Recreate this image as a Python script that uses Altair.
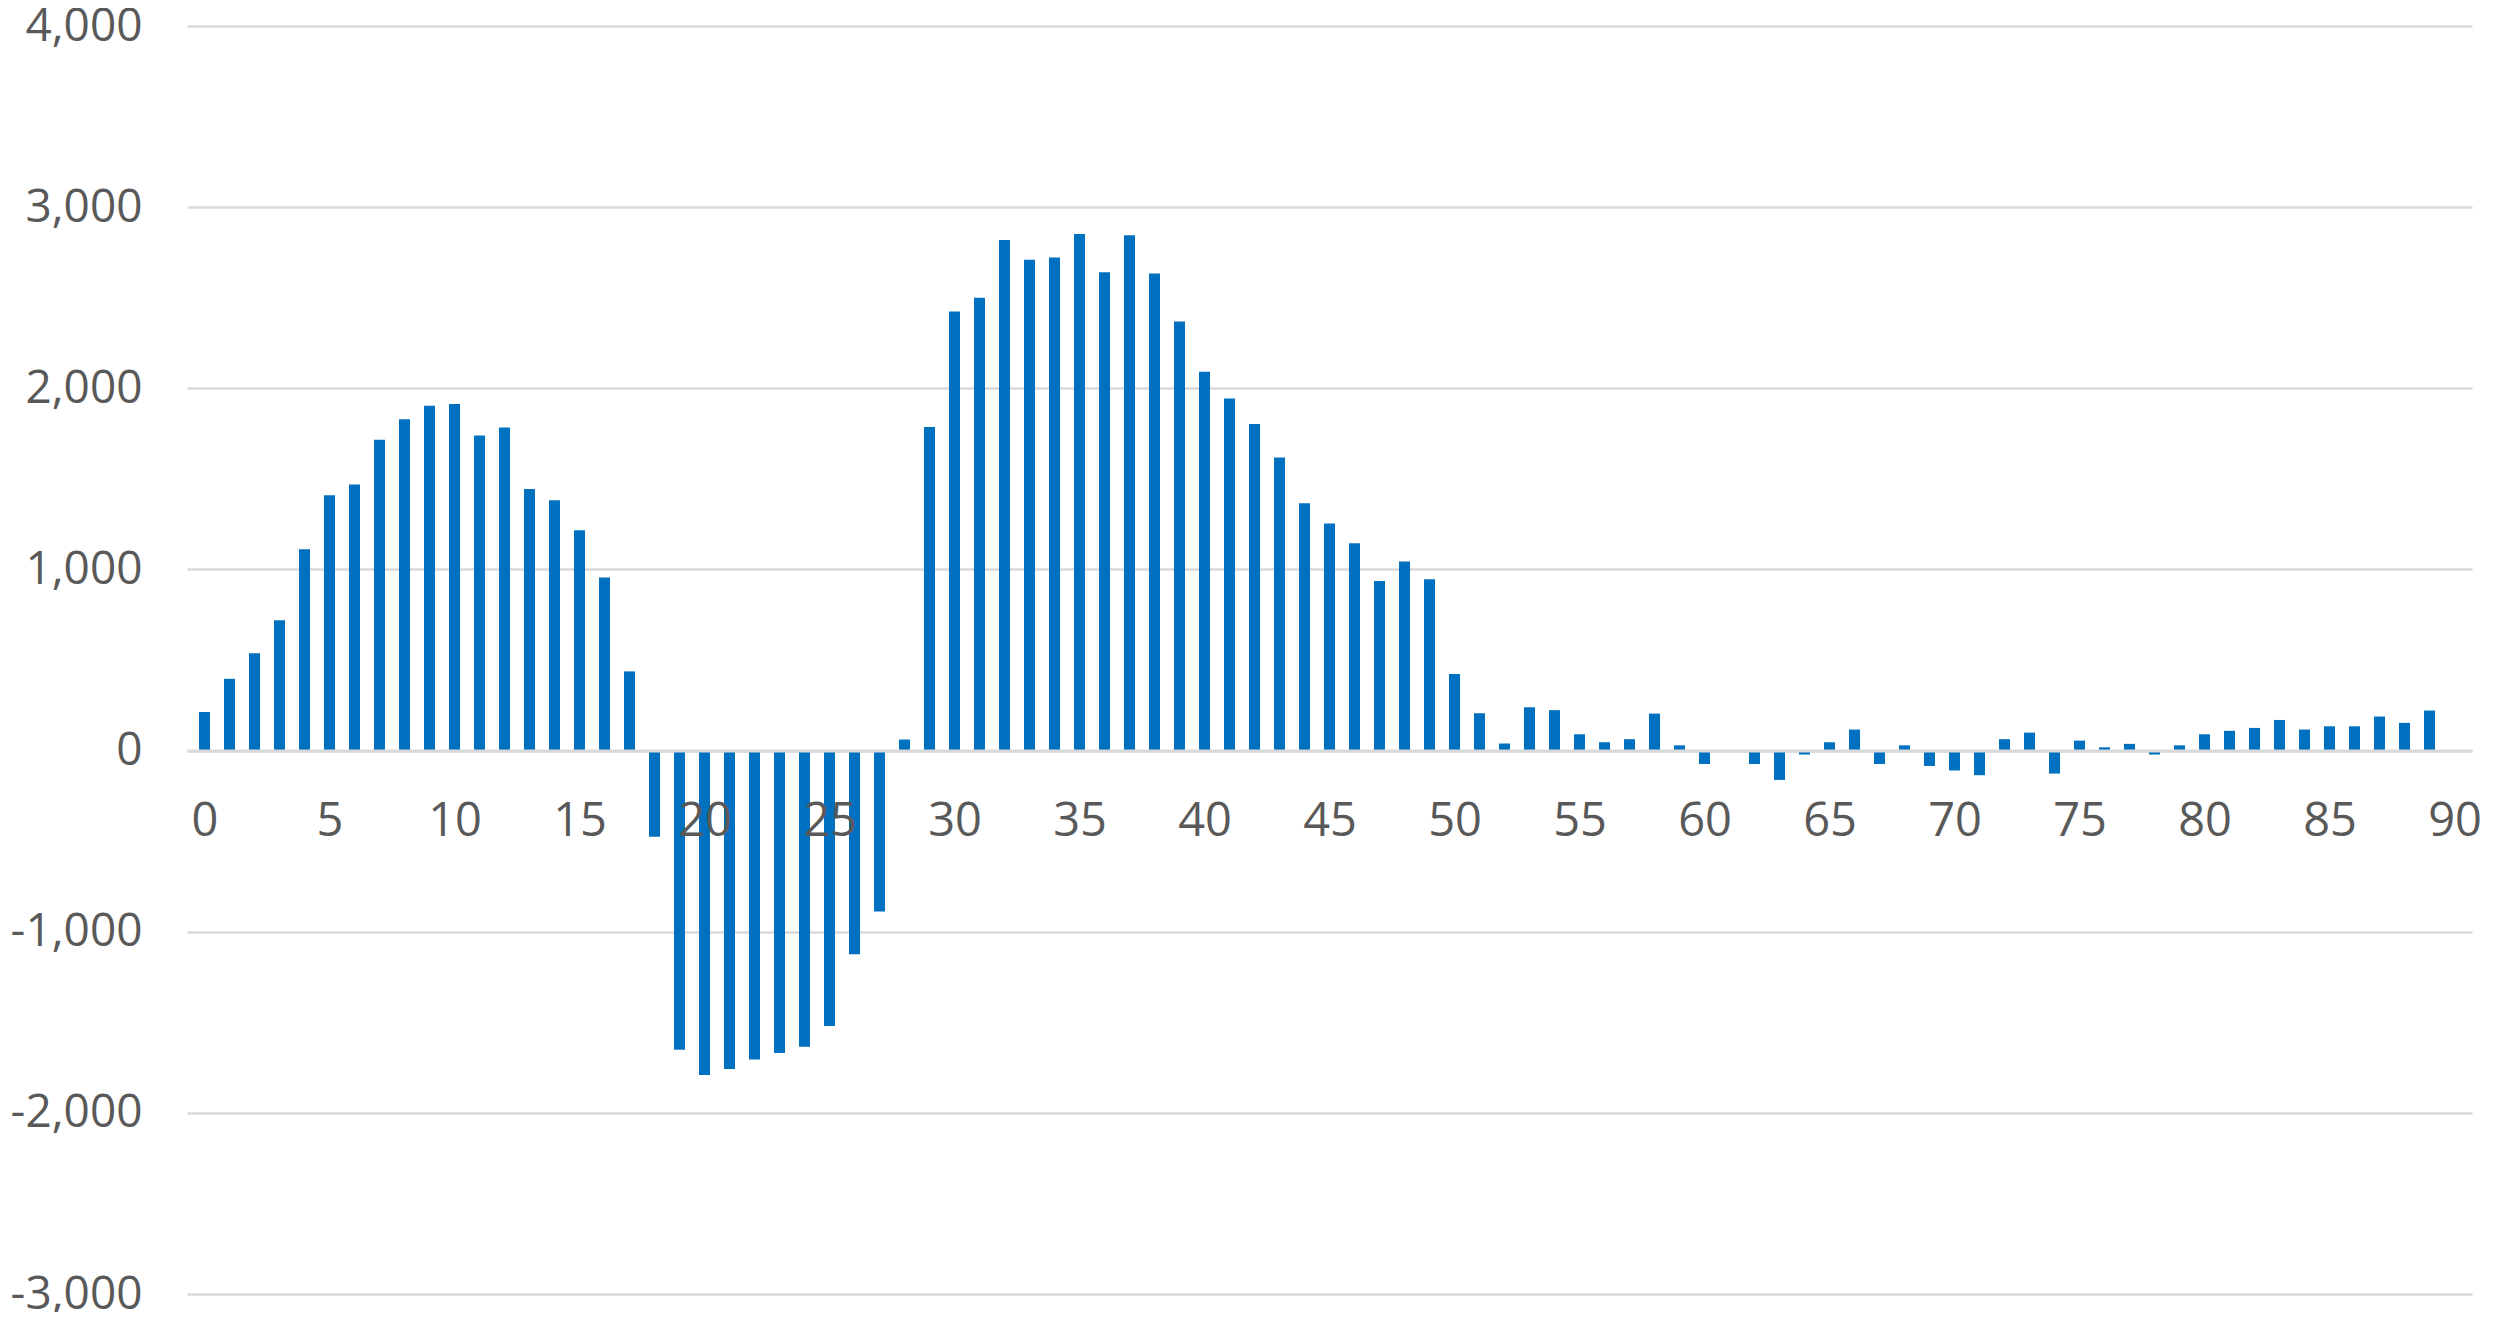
import altair as alt
import pandas as pd

x_vals = list(range(90))
y_vals = [213, 396, 537, 719, 1112, 1410, 1469, 1716, 1829, 1904, 1913, 1739, 1784, 1444, 1382, 1216, 955, 437,
          -476, -1651, -1791, -1758, -1705, -1670, -1635, -1520, -1125, -889,
          61, 1786, 2424, 2500, 2818, 2709, 2722, 2852, 2640, 2845, 2633, 2369, 2091, 1943, 1803, 1618, 1365, 1254,
          1145, 936, 1044, 946, 423, 206,
          39, 239, 223, 90, 46, 63, 204, 29, -74, 0, -74, -162, -22, 46, 116, -74, 29, -85, -110, -136, 63, 99,
          -127, 55, 18, 37, -22, 29, 90, 109, 125, 169, 116, 134, 134, 188, 153, 221]
x_ticks = list(range(0, 91, 5))
y_ticks = [-3000, -2000, -1000, 0, 1000, 2000, 3000, 4000]

df = pd.DataFrame({"x": x_vals, "y": y_vals})

W = 2285
H = 1268
ymin, ymax = -3000, 4000
zero_from_bottom = (0 - ymin) / (ymax - ymin) * H

FONT = "Open Sans"
LABEL_COLOR = "#595959"
GRID = "#d9d9d9"

chart = alt.Chart(df).mark_bar(size=11, color="#0070C0").encode(
    x=alt.X("x:Q",
            scale=alt.Scale(domain=[-0.5, 90.5], nice=False, zero=False),
            axis=alt.Axis(values=x_ticks, title=None, grid=False, ticks=False,
                          offset=-zero_from_bottom, domainColor=GRID, domainWidth=3,
                          labelFont=FONT, labelFontSize=47, labelColor=LABEL_COLOR,
                          labelPadding=48, labelFlush=False, zindex=1, labelOverlap=False)),
    y=alt.Y("y:Q",
            scale=alt.Scale(domain=[ymin, ymax], nice=False),
            axis=alt.Axis(values=y_ticks, title=None, domain=False, ticks=False,
                          labelExpr="replace(format(datum.value, ',d'), '\u2212', '-')",
                          gridColor=GRID, gridWidth=2.5, labelFont=FONT, labelFontSize=46,
                          labelColor=LABEL_COLOR, labelPadding=45, zindex=0)),
).properties(
    width=W,
    height=H,
    background="white",
    autosize=alt.AutoSizeParams(type="none"),
    padding={"left": 179, "top": 18, "right": 13, "bottom": 18},
).configure_view(strokeWidth=0)

chart.save("out.html", embed_options={"renderer": "svg", "actions": False})
